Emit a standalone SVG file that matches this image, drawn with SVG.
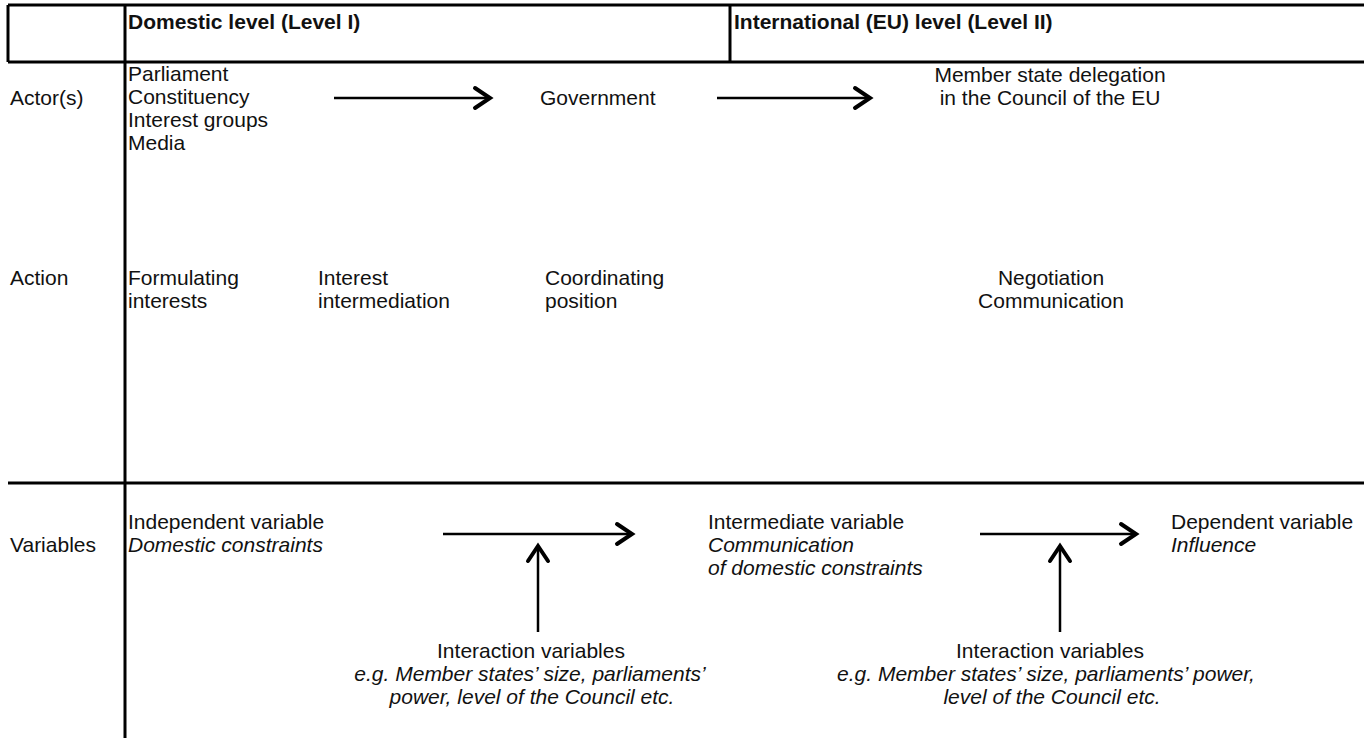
<svg xmlns="http://www.w3.org/2000/svg" width="1364" height="738" viewBox="0 0 1364 738">
<defs>
<style>
text{font-family:"Liberation Sans",Arial,sans-serif;font-size:21px;fill:#111}
.b{font-weight:bold}
.i{font-style:italic}
.m{text-anchor:middle}
.grid{stroke:#000;stroke-width:3;fill:none}
.arr{stroke:#000;stroke-width:2.5;fill:none;marker-end:url(#ah)}
</style>
<marker id="ah" markerUnits="userSpaceOnUse" markerWidth="30" markerHeight="30" viewBox="-20 -15 30 30" refX="0" refY="0" orient="auto">
<path d="M-15,-10 L0,0 L-15,10" fill="none" stroke="#000" stroke-width="4" stroke-linecap="round" stroke-linejoin="miter"/>
</marker>
</defs>
<rect width="1364" height="738" fill="#fff"/>
<g id="grid" class="grid">
<line x1="8" y1="5" x2="1364" y2="5"/>
<line x1="8" y1="62" x2="1364" y2="62"/>
<line x1="8" y1="483" x2="1364" y2="483"/>
<line x1="8" y1="5" x2="8" y2="62"/>
<line x1="125" y1="5" x2="125" y2="738"/>
<line x1="730" y1="5" x2="730" y2="62"/>
</g>
<g id="headers">
<text class="b" x="128" y="29">Domestic level (Level I)</text>
<text class="b" x="734" y="29">International (EU) level (Level II)</text>
</g>
<g id="row-labels">
<text x="10" y="105">Actor(s)</text>
<text x="10" y="285">Action</text>
<text x="10" y="552">Variables</text>
</g>
<g id="node-domestic-actors">
<text x="128" y="81">Parliament</text>
<text x="128" y="104">Constituency</text>
<text x="128" y="127">Interest groups</text>
<text x="128" y="150">Media</text>
</g>
<g id="node-government"><text x="540" y="105">Government</text></g>
<g id="node-delegation">
<text class="m" x="1050" y="82">Member state delegation</text>
<text class="m" x="1050" y="105">in the Council of the EU</text>
</g>
<g id="node-formulating"><text x="128" y="285">Formulating</text><text x="128" y="308">interests</text></g>
<g id="node-intermediation"><text x="318" y="285">Interest</text><text x="318" y="308">intermediation</text></g>
<g id="node-coordinating"><text x="545" y="285">Coordinating</text><text x="545" y="308">position</text></g>
<g id="node-negotiation"><text class="m" x="1051" y="285">Negotiation</text><text class="m" x="1051" y="308">Communication</text></g>
<g id="node-independent"><text x="128" y="529">Independent variable</text><text class="i" x="128" y="552">Domestic constraints</text></g>
<g id="node-intermediate"><text x="708" y="529">Intermediate variable</text><text class="i" x="708" y="552">Communication</text><text class="i" x="708" y="575">of domestic constraints</text></g>
<g id="node-dependent"><text x="1171" y="529">Dependent variable</text><text class="i" x="1171" y="552">Influence</text></g>
<g id="node-interaction1">
<text class="m" x="531" y="658">Interaction variables</text>
<text class="m i" x="530" y="681">e.g. Member states’ size, parliaments’</text>
<text class="m i" x="532" y="704">power, level of the Council etc.</text>
</g>
<g id="node-interaction2">
<text class="m" x="1050" y="658">Interaction variables</text>
<text class="m i" x="1046" y="681">e.g. Member states’ size, parliaments’ power,</text>
<text class="m i" x="1052" y="704">level of the Council etc.</text>
</g>
<g id="connectors">
<line class="arr" x1="334" y1="98" x2="490" y2="98"/>
<line class="arr" x1="717" y1="98" x2="870" y2="98"/>
<line class="arr" x1="443" y1="534" x2="632" y2="534"/>
<line class="arr" x1="980" y1="534" x2="1136" y2="534"/>
<line class="arr" x1="538" y1="632" x2="538" y2="546"/>
<line class="arr" x1="1060" y1="632" x2="1060" y2="546"/>
</g>
</svg>
